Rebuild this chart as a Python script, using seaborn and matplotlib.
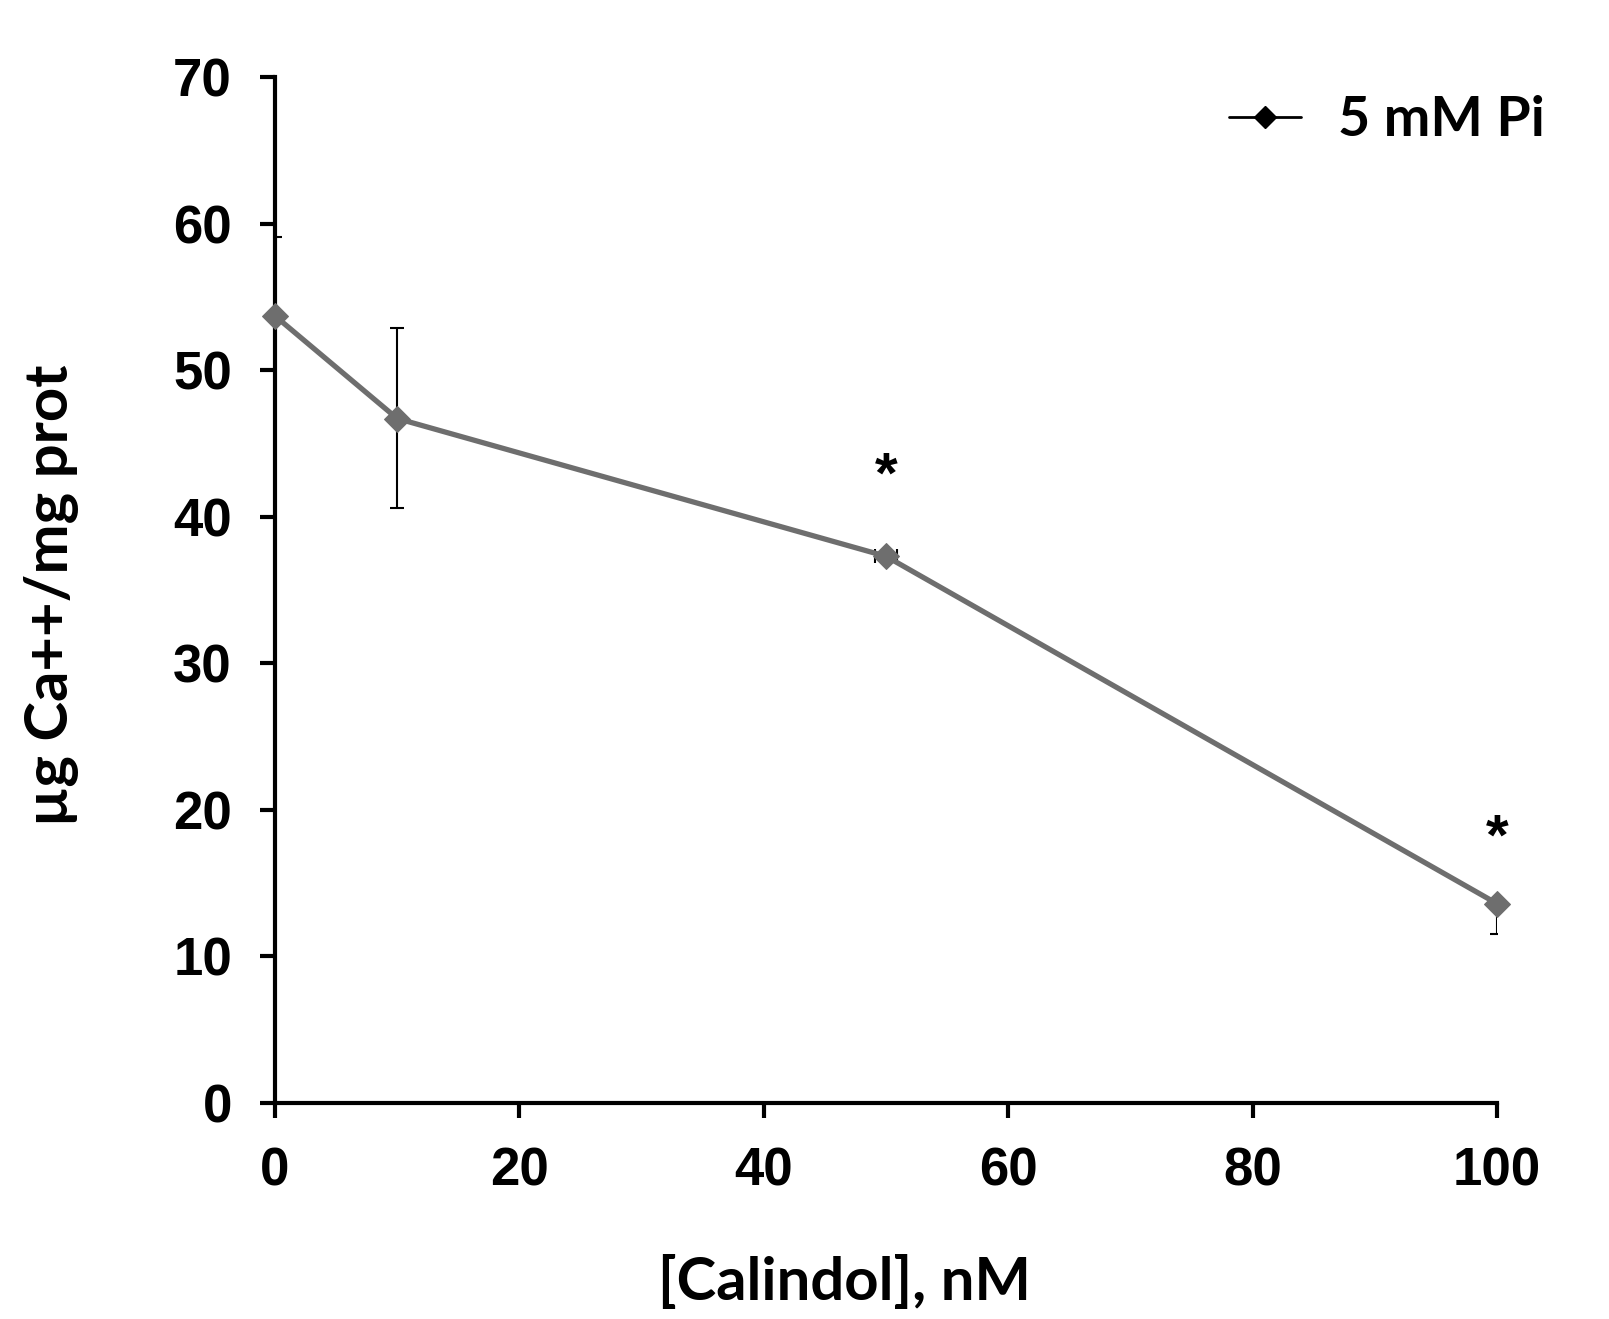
import numpy as np
import pandas as pd
import matplotlib
matplotlib.use('Agg')
import matplotlib.pyplot as plt
import seaborn as sns
from matplotlib.lines import Line2D

# datos
calindol = [0, 10, 50, 100]
calcio = [53.7, 46.7, 37.3, 13.6]
err_abajo = [0, 6.1, 0, 2.1]
err_arriba = [5.4, 6.2, 0, 0]
err_x = [0, 0, 0.9, 0]
asteriscos_x = [50, 100]
asteriscos_y = [43.9, 19.2]

df = pd.DataFrame({'calindol': calindol, 'calcio': calcio})

sns.set_style('white')
plt.rcParams['font.family'] = ['Liberation Sans', 'DejaVu Sans']
plt.rcParams['text.color'] = 'black'
plt.rcParams['axes.labelcolor'] = 'black'
plt.rcParams['xtick.color'] = 'black'
plt.rcParams['ytick.color'] = 'black'

fig = plt.figure(figsize=(16.09, 13.19), dpi=100)
ax = fig.add_axes([0.1709, 0.1638, 0.7595, 0.7778])

gris = '#6e6e6e'
sns.lineplot(ax=ax, x='calindol', y='calcio', data=df, color=gris, linewidth=3.8,
             marker='D', markersize=13, markeredgecolor=gris, legend=False, zorder=3)
for ln in ax.lines:
    ln.set_clip_on(False)
ax.errorbar(calindol, calcio, yerr=[err_abajo, err_arriba], xerr=err_x, fmt='none',
            ecolor='black', elinewidth=1.5, capsize=5, capthick=1.5, zorder=2)

for x, y in zip(asteriscos_x, asteriscos_y):
    ax.annotate('*', (x, y), xytext=(0, -24), textcoords='offset points',
                ha='center', va='baseline', fontsize=42, fontweight='bold')

ax.set_xlim(0, 100)
ax.set_ylim(0, 70)
ax.set_xticks([0, 20, 40, 60, 80, 100])
ax.set_yticks(range(0, 71, 10))
ax.spines['top'].set_visible(False)
ax.spines['right'].set_visible(False)
for s in ['left', 'bottom']:
    ax.spines[s].set_linewidth(3)
    ax.spines[s].set_color('black')
ax.tick_params(axis='both', direction='out', length=11, width=3, color='black',
               labelsize=38, pad=20, bottom=True, left=True)
for lbl in ax.get_xticklabels() + ax.get_yticklabels():
    lbl.set_fontweight('bold')

ax.set_xlabel('[Calindol], nM', fontsize=43, fontweight='bold', family='Lato', color='black')
ax.set_ylabel('µg Ca++/mg prot', fontsize=43, fontweight='bold', family='Lato', color='black')
ax.xaxis.set_label_coords(0.466, -0.148)
ax.yaxis.set_label_coords(-0.16, 0.495)

handle = Line2D([], [], color='black', linewidth=2, marker='D', markersize=11)
fig.legend([handle], ['5 mM Pi'], loc='center left', bbox_to_anchor=(0.764, 0.909),
           frameon=False, prop={'family': 'Lato', 'weight': 'bold', 'size': 40},
           handlelength=1.3, handletextpad=0.65, borderpad=0, borderaxespad=0,
           labelcolor='black')

fig.savefig('out.png', dpi=100)
